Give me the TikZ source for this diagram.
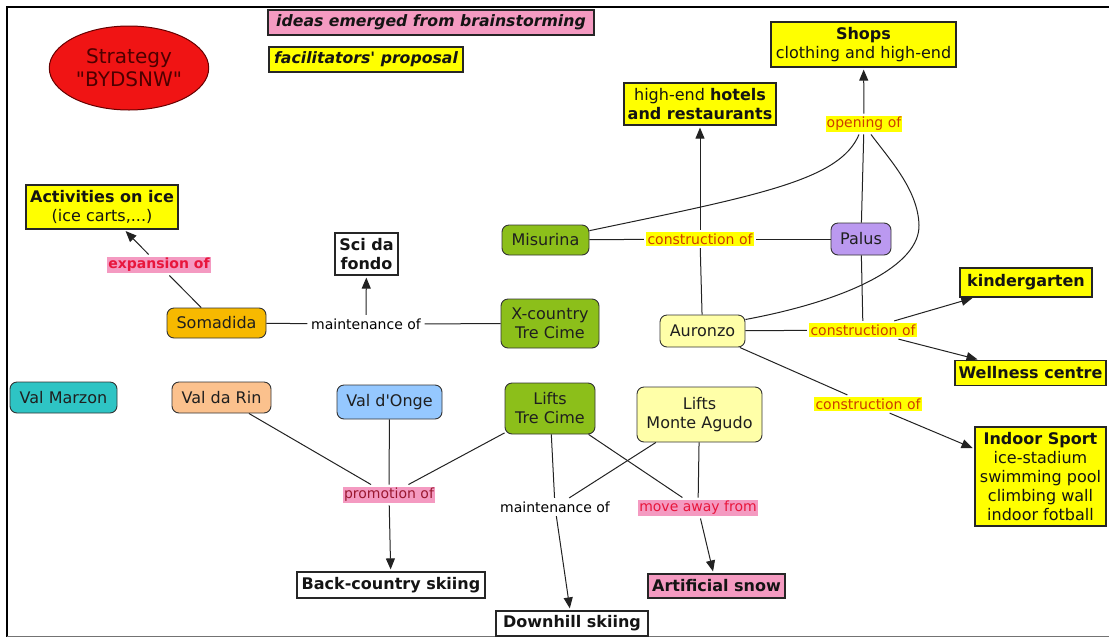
\documentclass[tikz,border=0pt]{standalone}
\usepackage{fontspec}
\setmainfont{DejaVu Sans}
\usetikzlibrary{arrows.meta,shapes.geometric}

\definecolor{cYel}{HTML}{FFFF00}
\definecolor{cPink}{HTML}{F49AC1}
\definecolor{cGreen}{HTML}{8CBF1A}
\definecolor{cLav}{HTML}{BB99F0}
\definecolor{cPale}{HTML}{FFFFA8}
\definecolor{cGold}{HTML}{F7B900}
\definecolor{cTeal}{HTML}{2EC4C4}
\definecolor{cPeach}{HTML}{FBC18D}
\definecolor{cSky}{HTML}{95C8FF}
\definecolor{cRedFill}{HTML}{F01414}
\definecolor{cMaroon}{HTML}{4D0000}
\definecolor{cRust}{HTML}{CC3C00}
\definecolor{cRedText}{HTML}{E8163C}
\definecolor{cPromo}{HTML}{9A1830}
\definecolor{cLine}{HTML}{222222}

\begin{document}
\begin{tikzpicture}[x=1pt,y=-1pt,
  sz/.style n args={2}{minimum width=#1pt, minimum height=#2pt},
  concept/.style={draw=black!80, line width=0.9pt, rounded corners=7pt,
    align=center, text=black!88, inner sep=2pt,
    font=\fontsize{16}{19}\selectfont},
  box/.style={draw=black!85, line width=1.2pt, fill=cYel, align=center,
    inner sep=2pt, text=black!92, font=\fontsize{16}{18.8}\selectfont},
  lbl/.style={inner sep=1.2pt, outer sep=2.5pt, font=\fontsize{14}{16}\selectfont},
  constr/.style={lbl, fill=cYel, text=cRust},
  pinklbl/.style={lbl, fill=cPink},
  link/.style={draw=cLine, line width=1pt},
  arr/.style={link, -{Triangle[length=11pt,width=9pt]}, shorten >=2pt}]

\useasboundingbox (0,0) rectangle (1109,638);

% frame
\draw[line width=2.5pt] (6,7) -- (1109,7);
\draw[line width=2.5pt] (7,6) -- (7,637);
\draw[black!55, line width=1.5pt] (7,636.5) -- (1109,636.5);

% title and legend
\node[ellipse, draw=black!60!red, line width=1pt, fill=cRedFill,
  minimum width=148pt, minimum height=84pt, text=cMaroon, align=center,
  font=\fontsize{20}{23}\selectfont] (strategy) at (129,68)
  {Strategy\\\textquotedbl BYDSNW\textquotedbl};
\node[box, fill=cPink, sz={326}{25}, font=\fontsize{15.7}{18}\selectfont\bfseries\itshape]
  (legA) at (431,22.5) {ideas emerged from brainstorming};
\node[box, sz={194}{25}, font=\fontsize{15.7}{18}\selectfont\bfseries\itshape]
  (legB) at (366,59.5) {facilitators\textquotesingle{} proposal};

% proposal boxes
\node[box, sz={185}{45}] (shops) at (863.5,44.5) {\textbf{Shops}\\clothing and high-end};
\node[box, sz={152}{42}] (hotels) at (700,104) {high-end \textbf{hotels}\\\textbf{and restaurants}};
\node[box, sz={152}{44}] (ice) at (102,207) {\textbf{Activities on ice}\\(ice carts,...)};
\node[box, fill=white, sz={63}{42}, font=\fontsize{16}{18.8}\selectfont\bfseries] (fondo) at (366.5,254) {Sci da\\fondo};
\node[box, sz={132}{29}] (kinder) at (1026,282.5) {\textbf{kindergarten}};
\node[box, sz={151}{25}] (wellness) at (1030.5,373) {\textbf{Wellness centre}};
\node[box, sz={131}{99}] (indoor) at (1040.5,476.5)
  {\textbf{Indoor Sport}\\ice-stadium\\swimming pool\\climbing wall\\indoor fotball};
\node[box, fill=white, sz={188}{26}] (backc) at (391,585) {\textbf{Back-country skiing}};
\node[box, fill=white, sz={152}{25}] (downhill) at (572,623.5) {\textbf{Downhill skiing}};
\node[box, fill=cPink, sz={137}{24}] (snow) at (716.5,586) {\textbf{Artificial snow}};

% places and lifts
\node[concept, fill=cGold, sz={99}{30}] (somadida) at (216.5,323) {Somadida};
\node[concept, fill=cGreen, sz={98}{49}] (xcountry) at (550,323.5) {X-country\\Tre Cime};
\node[concept, fill=cGreen, sz={87}{30}] (misurina) at (545.5,240) {Misurina};
\node[concept, fill=cLav, sz={60}{32}] (palus) at (861,239) {Palus};
\node[concept, fill=cPale, sz={85}{32}] (auronzo) at (702.5,331) {Auronzo};
\node[concept, fill=cTeal, sz={107}{31}] (marzon) at (63.5,397.5) {Val Marzon};
\node[concept, fill=cPeach, sz={99}{31}] (darin) at (221.5,397.5) {Val da Rin};
\node[concept, fill=cSky, sz={105}{34}] (donge) at (389.5,402) {Val d\textquotesingle{}Onge};
\node[concept, fill=cGreen, sz={90}{51}] (tcLifts) at (550,408.5) {Lifts\\Tre Cime};
\node[concept, fill=cPale, sz={125}{55}] (maLifts) at (699.5,414.5) {Lifts\\Monte Agudo};

% link phrases
\node[pinklbl, text=cRedText, font=\fontsize{14}{16}\selectfont\bfseries] (expansion) at (159,265) {expansion of};
\node[lbl, fill=white] (maintA) at (366,324) {maintenance of};
\node[constr] (constrA) at (700,239) {construction of};
\node[constr] (opening) at (864,124) {opening of};
\node[constr] (constrB) at (863,330) {construction of};
\node[constr] (constrC) at (868,404) {construction of};
\node[pinklbl, text=cPromo] (promotion) at (389,495) {promotion of};
\node[lbl, fill=white] (maintB) at (555,507) {maintenance of};
\node[pinklbl, text=cRedText] (moveaway) at (698,508) {move away from};

% links
\draw[link] (somadida) -- (maintA);
\draw[link] (maintA) -- (xcountry);
\draw[arr] (maintA) -- (fondo);
\draw[link] (somadida) -- (expansion);
\draw[arr] (expansion) -- (ice);

\draw[link] (misurina) -- (constrA);
\draw[link] (constrA) -- (palus);
\draw[link] (auronzo) -- (constrA);
\draw[arr] (constrA) -- (hotels);

\draw[link] (misurina.12) .. controls (760,195) and (840,180) .. ([xshift=-5pt]opening.south);
\draw[link] (palus) -- (opening);
\draw[link] (auronzo.15) .. controls (850,300) and (920,265) .. (919,225)
  .. controls (918,190) and (890,160) .. ([xshift=7pt]opening.south);
\draw[arr] (opening) -- (shops);

\draw[link] (auronzo) -- (constrB);
\draw[link] (palus) -- (constrB);
\draw[arr] (constrB) -- (kinder);
\draw[arr] (constrB) -- (wellness);
\draw[link] (auronzo) -- (constrC);
\draw[arr] (constrC) -- (indoor);

\draw[link] (darin) -- (promotion);
\draw[link] (donge) -- (promotion);
\draw[link] (tcLifts) -- (promotion);
\draw[arr] (promotion) -- (backc);

\draw[link] (tcLifts) -- (maintB);
\draw[link] (maLifts) -- (maintB);
\draw[arr] (maintB) -- (downhill);

\draw[link] (tcLifts) -- (moveaway);
\draw[link] (maLifts) -- (moveaway);
\draw[arr] (moveaway) -- (snow);
\end{tikzpicture}
\end{document}
